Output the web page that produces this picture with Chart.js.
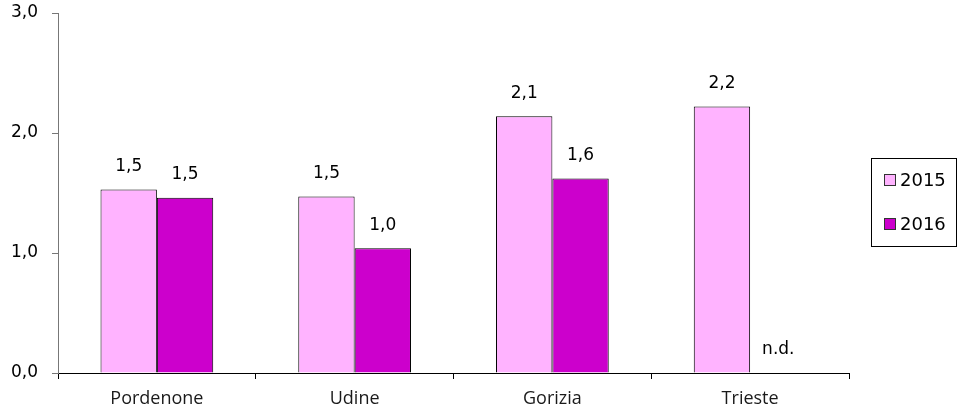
<!DOCTYPE html>
<html>
<head>
<meta charset="utf-8">
<script src="https://cdn.jsdelivr.net/npm/chart.js@4/dist/chart.umd.min.js"></script>
<style>
  html, body { margin: 0; padding: 0; background: #fff; }
  #wrap { position: relative; width: 958px; height: 415px; }
  #legend {
    position: absolute; left: 871px; top: 158px; width: 86px; height: 89px;
    border: 1px solid #000; font-family: "DejaVu Sans", sans-serif; font-size: 18px;
    box-sizing: border-box;
  }
  #legend .item { position: absolute; left: 12px; display: flex; align-items: center; }
  #legend .sw { width: 10px; height: 10px; border: 1px solid #333; margin-right: 4px; }
</style>
</head>
<body>
<div id="wrap">
  <canvas id="chart" width="958" height="415"></canvas>
  <div id="legend"></div>
</div>
<script>
const categories = ['Pordenone', 'Udine', 'Gorizia', 'Trieste'];
const seriesLabels = ['2015', '2016'];
const values2015 = [1.53, 1.47, 2.14, 2.22];
const values2016 = [1.46, 1.04, 1.62, null];
const yTicks = [0, 1, 2, 3];
const colors = ['#ffb3ff', '#cc00cc'];

const fmt = v => v.toFixed(1).replace('.', ',');
const numFont = '"DejaVu Sans", sans-serif';

// value labels above bars, "n.d." where missing
const barLabels = {
  id: 'barLabels',
  afterDatasetsDraw(chart) {
    const ctx = chart.ctx;
    const y0 = chart.scales.y.getPixelForValue(0);
    ctx.save();
    ctx.font = '17px ' + numFont;
    ctx.fillStyle = '#000';
    ctx.textAlign = 'center';
    ctx.textBaseline = 'middle';
    chart.data.datasets.forEach((ds, di) => {
      const meta = chart.getDatasetMeta(di);
      meta.data.forEach((bar, i) => {
        const v = ds.data[i];
        if (v == null) {
          ctx.fillText('n.d.', bar.x, y0 - 23);
        } else {
          ctx.fillText(fmt(v), bar.x, bar.y - 23);
        }
      });
    });
    ctx.restore();
  }
};

new Chart(document.getElementById('chart'), {
  type: 'bar',
  data: {
    labels: categories,
    datasets: [
      { label: seriesLabels[0], data: values2015, backgroundColor: colors[0] },
      { label: seriesLabels[1], data: values2016, backgroundColor: colors[1] }
    ]
  },
  options: {
    responsive: false,
    animation: false,
    layout: { padding: { top: 13, right: 109, bottom: 0, left: 0 } },
    datasets: {
      bar: {
        borderColor: '#000',
        borderWidth: 1,
        barPercentage: 1,
        categoryPercentage: 0.57
      }
    },
    plugins: {
      legend: { display: false },
      tooltip: { enabled: false }
    },
    scales: {
      x: {
        grid: { offset: true, drawOnChartArea: false, drawTicks: true, tickLength: 6, color: '#000' },
        border: { color: '#000', width: 1 },
        ticks: { color: '#1a1a1a', padding: 9, font: { family: '"Open Sans", sans-serif', size: 18 } },
        afterFit(s) { s.height = 42; s.paddingLeft = 0; s.paddingRight = 0; }
      },
      y: {
        min: 0,
        max: 3,
        afterBuildTicks(s) { s.ticks = yTicks.map(v => ({ value: v })); },
        grid: { drawOnChartArea: false, drawTicks: true, tickLength: 6, color: '#777' },
        border: { color: '#777', width: 1 },
        ticks: {
          color: '#000', padding: 14,
          font: { family: numFont, size: 17 },
          callback: v => fmt(v)
        },
        afterFit(s) { s.width = 58; s.paddingTop = 0; s.paddingBottom = 0; }
      }
    }
  },
  plugins: [barLabels]
});

// legend box on the right
const legend = document.getElementById('legend');
seriesLabels.forEach((lab, i) => {
  const item = document.createElement('div');
  item.className = 'item';
  item.style.top = (i === 0 ? 10 : 54) + 'px';
  const sw = document.createElement('span');
  sw.className = 'sw';
  sw.style.background = colors[i];
  const tx = document.createElement('span');
  tx.textContent = lab;
  item.appendChild(sw);
  item.appendChild(tx);
  legend.appendChild(item);
});
</script>
</body>
</html>
